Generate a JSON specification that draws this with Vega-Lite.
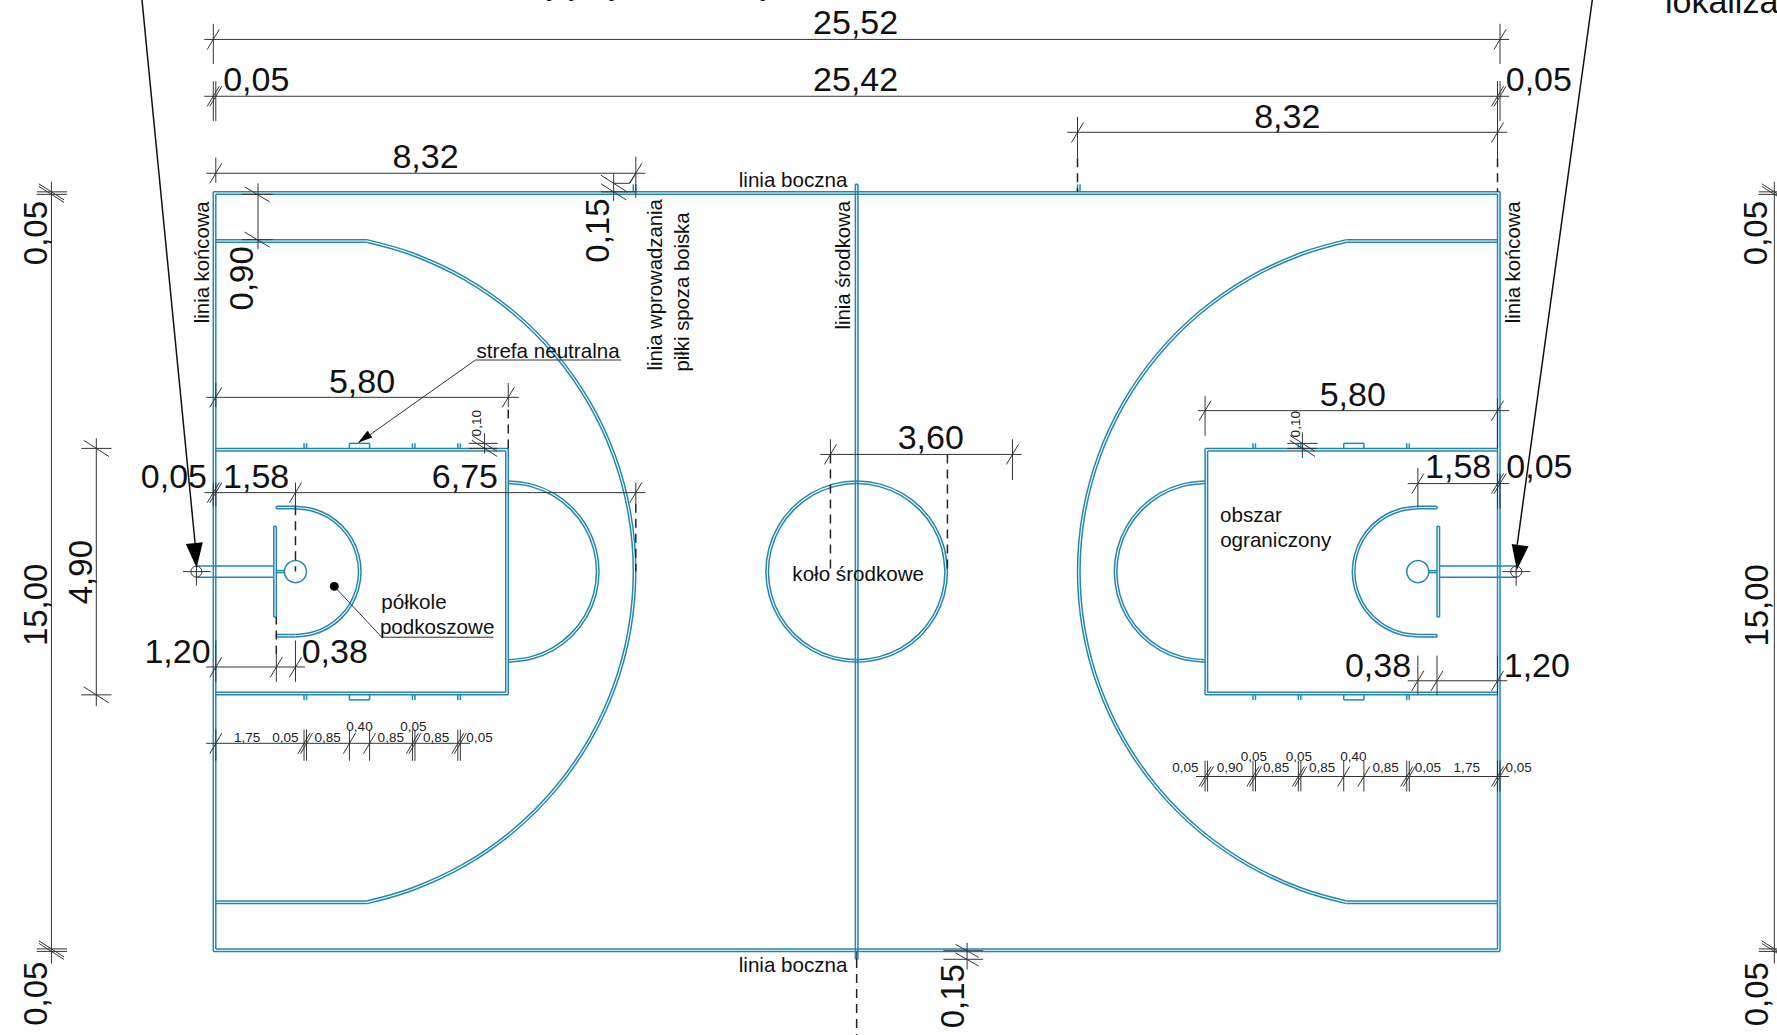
{"$schema":"https://vega.github.io/schema/vega-lite/v6.json","width":1777,"height":1035,"padding":0,"autosize":{"type":"fit","contains":"padding"},"background":"white","config":{"view":{"stroke":null}},
"datasets":{
"court":[
{"x":0,"y":0,"x2":25.52,"y2":0},{"x":0,"y":15.1,"x2":25.52,"y2":15.1},{"x":0,"y":0,"x2":0,"y2":15.1},{"x":25.52,"y":0,"x2":25.52,"y2":15.1},
{"x":0.05,"y":0.05,"x2":25.47,"y2":0.05},{"x":0.05,"y":15.05,"x2":25.47,"y2":15.05},{"x":0.05,"y":0.05,"x2":0.05,"y2":15.05},{"x":25.47,"y":0.05,"x2":25.47,"y2":15.05},
{"x":12.735,"y":-0.15,"x2":12.735,"y2":15.25},{"x":12.785,"y":-0.15,"x2":12.785,"y2":15.25},{"x":12.735,"y":15.25,"x2":12.785,"y2":15.25},{"x":12.735,"y":-0.15,"x2":12.785,"y2":-0.15},
{"x":0.05,"y":14.15,"x2":3.045,"y2":14.15},{"x":0.05,"y":14.1,"x2":3.04,"y2":14.1},{"x":0.05,"y":0.95,"x2":3.045,"y2":0.95},{"x":0.05,"y":1,"x2":3.04,"y2":1},
{"x":25.47,"y":14.15,"x2":22.475,"y2":14.15},{"x":25.47,"y":14.1,"x2":22.48,"y2":14.1},{"x":25.47,"y":0.95,"x2":22.475,"y2":0.95},{"x":25.47,"y":1,"x2":22.48,"y2":1},
{"x":0.05,"y":10,"x2":5.85,"y2":10},{"x":0.05,"y":9.95,"x2":5.8,"y2":9.95},{"x":0.05,"y":5.1,"x2":5.85,"y2":5.1},{"x":0.05,"y":5.15,"x2":5.8,"y2":5.15},{"x":5.85,"y":10,"x2":5.85,"y2":5.1},{"x":5.8,"y":9.95,"x2":5.8,"y2":5.15},
{"x":25.47,"y":10,"x2":19.67,"y2":10},{"x":25.47,"y":9.95,"x2":19.72,"y2":9.95},{"x":25.47,"y":5.1,"x2":19.67,"y2":5.1},{"x":25.47,"y":5.15,"x2":19.72,"y2":5.15},{"x":19.67,"y":10,"x2":19.67,"y2":5.1},{"x":19.72,"y":9.95,"x2":19.72,"y2":5.15},
{"x":1.8,"y":10,"x2":1.8,"y2":10.1},{"x":1.85,"y":10,"x2":1.85,"y2":10.1},{"x":2.7,"y":10,"x2":2.7,"y2":10.1},{"x":3.1,"y":10,"x2":3.1,"y2":10.1},{"x":2.7,"y":10.1,"x2":3.1,"y2":10.1},{"x":3.95,"y":10,"x2":3.95,"y2":10.1},{"x":4,"y":10,"x2":4,"y2":10.1},{"x":4.85,"y":10,"x2":4.85,"y2":10.1},{"x":4.9,"y":10,"x2":4.9,"y2":10.1},
{"x":1.8,"y":5.1,"x2":1.8,"y2":5},{"x":1.85,"y":5.1,"x2":1.85,"y2":5},{"x":2.7,"y":5.1,"x2":2.7,"y2":5},{"x":3.1,"y":5.1,"x2":3.1,"y2":5},{"x":2.7,"y":5,"x2":3.1,"y2":5},{"x":3.95,"y":5.1,"x2":3.95,"y2":5},{"x":4,"y":5.1,"x2":4,"y2":5},{"x":4.85,"y":5.1,"x2":4.85,"y2":5},{"x":4.9,"y":5.1,"x2":4.9,"y2":5},
{"x":23.72,"y":10,"x2":23.72,"y2":10.1},{"x":23.67,"y":10,"x2":23.67,"y2":10.1},{"x":22.82,"y":10,"x2":22.82,"y2":10.1},{"x":22.42,"y":10,"x2":22.42,"y2":10.1},{"x":22.42,"y":10.1,"x2":22.82,"y2":10.1},{"x":21.57,"y":10,"x2":21.57,"y2":10.1},{"x":21.52,"y":10,"x2":21.52,"y2":10.1},{"x":20.67,"y":10,"x2":20.67,"y2":10.1},{"x":20.62,"y":10,"x2":20.62,"y2":10.1},
{"x":23.72,"y":5.1,"x2":23.72,"y2":5},{"x":23.67,"y":5.1,"x2":23.67,"y2":5},{"x":22.82,"y":5.1,"x2":22.82,"y2":5},{"x":22.42,"y":5.1,"x2":22.42,"y2":5},{"x":22.42,"y":5,"x2":22.82,"y2":5},{"x":21.57,"y":5.1,"x2":21.57,"y2":5},{"x":21.52,"y":5.1,"x2":21.52,"y2":5},{"x":20.67,"y":5.1,"x2":20.67,"y2":5},{"x":20.62,"y":5.1,"x2":20.62,"y2":5},
{"x":1.25,"y":8.85,"x2":1.63,"y2":8.85},{"x":1.25,"y":8.8,"x2":1.63,"y2":8.8},{"x":1.25,"y":8.85,"x2":1.25,"y2":8.8},{"x":1.25,"y":6.25,"x2":1.63,"y2":6.25},{"x":1.25,"y":6.3,"x2":1.63,"y2":6.3},{"x":1.25,"y":6.25,"x2":1.25,"y2":6.3},
{"x":24.27,"y":8.85,"x2":23.89,"y2":8.85},{"x":24.27,"y":8.8,"x2":23.89,"y2":8.8},{"x":24.27,"y":8.85,"x2":24.27,"y2":8.8},{"x":24.27,"y":6.25,"x2":23.89,"y2":6.25},{"x":24.27,"y":6.3,"x2":23.89,"y2":6.3},{"x":24.27,"y":6.25,"x2":24.27,"y2":6.3},
{"x":1.2,"y":6.65,"x2":1.2,"y2":8.45},{"x":1.25,"y":6.65,"x2":1.25,"y2":8.45},{"x":1.2,"y":6.65,"x2":1.25,"y2":6.65},{"x":1.2,"y":8.45,"x2":1.25,"y2":8.45},
{"x":24.32,"y":6.65,"x2":24.32,"y2":8.45},{"x":24.27,"y":6.65,"x2":24.27,"y2":8.45},{"x":24.27,"y":6.65,"x2":24.32,"y2":6.65},{"x":24.27,"y":8.45,"x2":24.32,"y2":8.45},
{"x":-0.335,"y":7.66,"x2":1.2,"y2":7.66},{"x":-0.335,"y":7.44,"x2":1.2,"y2":7.44},{"x":25.84,"y":7.66,"x2":24.32,"y2":7.66},{"x":25.84,"y":7.44,"x2":24.32,"y2":7.44},
{"x":1.25,"y":7.57,"x2":1.41,"y2":7.57},{"x":1.25,"y":7.53,"x2":1.41,"y2":7.53},{"x":24.27,"y":7.57,"x2":24.11,"y2":7.57},{"x":24.27,"y":7.53,"x2":24.11,"y2":7.53},
{"x":8.33,"y":15.1,"x2":8.33,"y2":15.25},{"x":8.38,"y":15.1,"x2":8.38,"y2":15.25},{"x":17.14,"y":15.1,"x2":17.14,"y2":15.25},{"x":17.19,"y":15.1,"x2":17.19,"y2":15.25}
],
"arcs":[
{"id":"t1","i":0,"x":3.045,"y":14.15},{"id":"t1","i":1,"x":3.939,"y":13.893},{"id":"t1","i":2,"x":5.005,"y":13.396},{"id":"t1","i":3,"x":5.969,"y":12.721},{"id":"t1","i":4,"x":6.801,"y":11.889},{"id":"t1","i":5,"x":7.476,"y":10.925},{"id":"t1","i":6,"x":7.973,"y":9.859},{"id":"t1","i":7,"x":8.277,"y":8.722},{"id":"t1","i":8,"x":8.38,"y":7.55},{"id":"t1","i":9,"x":8.277,"y":6.378},{"id":"t1","i":10,"x":7.973,"y":5.241},{"id":"t1","i":11,"x":7.476,"y":4.175},{"id":"t1","i":12,"x":6.801,"y":3.211},{"id":"t1","i":13,"x":5.969,"y":2.379},{"id":"t1","i":14,"x":5.005,"y":1.704},{"id":"t1","i":15,"x":3.939,"y":1.207},{"id":"t1","i":16,"x":3.045,"y":0.95},
{"id":"t2","i":0,"x":3.04,"y":14.1},{"id":"t2","i":1,"x":3.921,"y":13.846},{"id":"t2","i":2,"x":4.98,"y":13.352},{"id":"t2","i":3,"x":5.937,"y":12.682},{"id":"t2","i":4,"x":6.762,"y":11.857},{"id":"t2","i":5,"x":7.432,"y":10.9},{"id":"t2","i":6,"x":7.926,"y":9.841},{"id":"t2","i":7,"x":8.228,"y":8.713},{"id":"t2","i":8,"x":8.33,"y":7.55},{"id":"t2","i":9,"x":8.228,"y":6.387},{"id":"t2","i":10,"x":7.926,"y":5.259},{"id":"t2","i":11,"x":7.432,"y":4.2},{"id":"t2","i":12,"x":6.762,"y":3.243},{"id":"t2","i":13,"x":5.937,"y":2.418},{"id":"t2","i":14,"x":4.98,"y":1.748},{"id":"t2","i":15,"x":3.921,"y":1.254},{"id":"t2","i":16,"x":3.04,"y":1},
{"id":"t3","i":0,"x":22.475,"y":14.15},{"id":"t3","i":1,"x":21.581,"y":13.893},{"id":"t3","i":2,"x":20.515,"y":13.396},{"id":"t3","i":3,"x":19.551,"y":12.721},{"id":"t3","i":4,"x":18.719,"y":11.889},{"id":"t3","i":5,"x":18.044,"y":10.925},{"id":"t3","i":6,"x":17.547,"y":9.859},{"id":"t3","i":7,"x":17.243,"y":8.722},{"id":"t3","i":8,"x":17.14,"y":7.55},{"id":"t3","i":9,"x":17.243,"y":6.378},{"id":"t3","i":10,"x":17.547,"y":5.241},{"id":"t3","i":11,"x":18.044,"y":4.175},{"id":"t3","i":12,"x":18.719,"y":3.211},{"id":"t3","i":13,"x":19.551,"y":2.379},{"id":"t3","i":14,"x":20.515,"y":1.704},{"id":"t3","i":15,"x":21.581,"y":1.207},{"id":"t3","i":16,"x":22.475,"y":0.95},
{"id":"t4","i":0,"x":22.48,"y":14.1},{"id":"t4","i":1,"x":21.599,"y":13.846},{"id":"t4","i":2,"x":20.54,"y":13.352},{"id":"t4","i":3,"x":19.583,"y":12.682},{"id":"t4","i":4,"x":18.758,"y":11.857},{"id":"t4","i":5,"x":18.088,"y":10.9},{"id":"t4","i":6,"x":17.594,"y":9.841},{"id":"t4","i":7,"x":17.292,"y":8.713},{"id":"t4","i":8,"x":17.19,"y":7.55},{"id":"t4","i":9,"x":17.292,"y":6.387},{"id":"t4","i":10,"x":17.594,"y":5.259},{"id":"t4","i":11,"x":18.088,"y":4.2},{"id":"t4","i":12,"x":18.758,"y":3.243},{"id":"t4","i":13,"x":19.583,"y":2.418},{"id":"t4","i":14,"x":20.54,"y":1.748},{"id":"t4","i":15,"x":21.599,"y":1.254},{"id":"t4","i":16,"x":22.48,"y":1},
{"id":"f1","i":0,"x":5.85,"y":9.35},{"id":"f1","i":1,"x":6.316,"y":9.289},{"id":"f1","i":2,"x":6.75,"y":9.109},{"id":"f1","i":3,"x":7.123,"y":8.823},{"id":"f1","i":4,"x":7.409,"y":8.45},{"id":"f1","i":5,"x":7.589,"y":8.016},{"id":"f1","i":6,"x":7.65,"y":7.55},{"id":"f1","i":7,"x":7.589,"y":7.084},{"id":"f1","i":8,"x":7.409,"y":6.65},{"id":"f1","i":9,"x":7.123,"y":6.277},{"id":"f1","i":10,"x":6.75,"y":5.991},{"id":"f1","i":11,"x":6.316,"y":5.811},{"id":"f1","i":12,"x":5.85,"y":5.75},
{"id":"f2","i":0,"x":5.85,"y":9.3},{"id":"f2","i":1,"x":6.303,"y":9.24},{"id":"f2","i":2,"x":6.725,"y":9.066},{"id":"f2","i":3,"x":7.087,"y":8.787},{"id":"f2","i":4,"x":7.366,"y":8.425},{"id":"f2","i":5,"x":7.54,"y":8.003},{"id":"f2","i":6,"x":7.6,"y":7.55},{"id":"f2","i":7,"x":7.54,"y":7.097},{"id":"f2","i":8,"x":7.366,"y":6.675},{"id":"f2","i":9,"x":7.087,"y":6.313},{"id":"f2","i":10,"x":6.725,"y":6.034},{"id":"f2","i":11,"x":6.303,"y":5.86},{"id":"f2","i":12,"x":5.85,"y":5.8},
{"id":"f3","i":0,"x":19.67,"y":9.35},{"id":"f3","i":1,"x":19.204,"y":9.289},{"id":"f3","i":2,"x":18.77,"y":9.109},{"id":"f3","i":3,"x":18.397,"y":8.823},{"id":"f3","i":4,"x":18.111,"y":8.45},{"id":"f3","i":5,"x":17.931,"y":8.016},{"id":"f3","i":6,"x":17.87,"y":7.55},{"id":"f3","i":7,"x":17.931,"y":7.084},{"id":"f3","i":8,"x":18.111,"y":6.65},{"id":"f3","i":9,"x":18.397,"y":6.277},{"id":"f3","i":10,"x":18.77,"y":5.991},{"id":"f3","i":11,"x":19.204,"y":5.811},{"id":"f3","i":12,"x":19.67,"y":5.75},
{"id":"f4","i":0,"x":19.67,"y":9.3},{"id":"f4","i":1,"x":19.217,"y":9.24},{"id":"f4","i":2,"x":18.795,"y":9.066},{"id":"f4","i":3,"x":18.433,"y":8.787},{"id":"f4","i":4,"x":18.154,"y":8.425},{"id":"f4","i":5,"x":17.98,"y":8.003},{"id":"f4","i":6,"x":17.92,"y":7.55},{"id":"f4","i":7,"x":17.98,"y":7.097},{"id":"f4","i":8,"x":18.154,"y":6.675},{"id":"f4","i":9,"x":18.433,"y":6.313},{"id":"f4","i":10,"x":18.795,"y":6.034},{"id":"f4","i":11,"x":19.217,"y":5.86},{"id":"f4","i":12,"x":19.67,"y":5.8},
{"id":"c1","i":0,"x":14.56,"y":7.55},{"id":"c1","i":1,"x":14.499,"y":8.016},{"id":"c1","i":2,"x":14.319,"y":8.45},{"id":"c1","i":3,"x":14.033,"y":8.823},{"id":"c1","i":4,"x":13.66,"y":9.109},{"id":"c1","i":5,"x":13.226,"y":9.289},{"id":"c1","i":6,"x":12.76,"y":9.35},{"id":"c1","i":7,"x":12.294,"y":9.289},{"id":"c1","i":8,"x":11.86,"y":9.109},{"id":"c1","i":9,"x":11.487,"y":8.823},{"id":"c1","i":10,"x":11.201,"y":8.45},{"id":"c1","i":11,"x":11.021,"y":8.016},{"id":"c1","i":12,"x":10.96,"y":7.55},{"id":"c1","i":13,"x":11.021,"y":7.084},{"id":"c1","i":14,"x":11.201,"y":6.65},{"id":"c1","i":15,"x":11.487,"y":6.277},{"id":"c1","i":16,"x":11.86,"y":5.991},{"id":"c1","i":17,"x":12.294,"y":5.811},{"id":"c1","i":18,"x":12.76,"y":5.75},{"id":"c1","i":19,"x":13.226,"y":5.811},{"id":"c1","i":20,"x":13.66,"y":5.991},{"id":"c1","i":21,"x":14.033,"y":6.277},{"id":"c1","i":22,"x":14.319,"y":6.65},{"id":"c1","i":23,"x":14.499,"y":7.084},{"id":"c1","i":24,"x":14.56,"y":7.55},{"id":"c1","i":25,"x":14.499,"y":8.016},
{"id":"c2","i":0,"x":14.51,"y":7.55},{"id":"c2","i":1,"x":14.45,"y":8.003},{"id":"c2","i":2,"x":14.276,"y":8.425},{"id":"c2","i":3,"x":13.997,"y":8.787},{"id":"c2","i":4,"x":13.635,"y":9.066},{"id":"c2","i":5,"x":13.213,"y":9.24},{"id":"c2","i":6,"x":12.76,"y":9.3},{"id":"c2","i":7,"x":12.307,"y":9.24},{"id":"c2","i":8,"x":11.885,"y":9.066},{"id":"c2","i":9,"x":11.523,"y":8.787},{"id":"c2","i":10,"x":11.244,"y":8.425},{"id":"c2","i":11,"x":11.07,"y":8.003},{"id":"c2","i":12,"x":11.01,"y":7.55},{"id":"c2","i":13,"x":11.07,"y":7.097},{"id":"c2","i":14,"x":11.244,"y":6.675},{"id":"c2","i":15,"x":11.523,"y":6.313},{"id":"c2","i":16,"x":11.885,"y":6.034},{"id":"c2","i":17,"x":12.307,"y":5.86},{"id":"c2","i":18,"x":12.76,"y":5.8},{"id":"c2","i":19,"x":13.213,"y":5.86},{"id":"c2","i":20,"x":13.635,"y":6.034},{"id":"c2","i":21,"x":13.997,"y":6.313},{"id":"c2","i":22,"x":14.276,"y":6.675},{"id":"c2","i":23,"x":14.45,"y":7.097},{"id":"c2","i":24,"x":14.51,"y":7.55},{"id":"c2","i":25,"x":14.45,"y":8.003},
{"id":"n1","i":0,"x":1.63,"y":8.85},{"id":"n1","i":1,"x":1.966,"y":8.806},{"id":"n1","i":2,"x":2.28,"y":8.676},{"id":"n1","i":3,"x":2.549,"y":8.469},{"id":"n1","i":4,"x":2.756,"y":8.2},{"id":"n1","i":5,"x":2.886,"y":7.886},{"id":"n1","i":6,"x":2.93,"y":7.55},{"id":"n1","i":7,"x":2.886,"y":7.214},{"id":"n1","i":8,"x":2.756,"y":6.9},{"id":"n1","i":9,"x":2.549,"y":6.631},{"id":"n1","i":10,"x":2.28,"y":6.424},{"id":"n1","i":11,"x":1.966,"y":6.294},{"id":"n1","i":12,"x":1.63,"y":6.25},
{"id":"n2","i":0,"x":1.63,"y":8.8},{"id":"n2","i":1,"x":1.954,"y":8.757},{"id":"n2","i":2,"x":2.255,"y":8.633},{"id":"n2","i":3,"x":2.514,"y":8.434},{"id":"n2","i":4,"x":2.713,"y":8.175},{"id":"n2","i":5,"x":2.837,"y":7.874},{"id":"n2","i":6,"x":2.88,"y":7.55},{"id":"n2","i":7,"x":2.837,"y":7.226},{"id":"n2","i":8,"x":2.713,"y":6.925},{"id":"n2","i":9,"x":2.514,"y":6.666},{"id":"n2","i":10,"x":2.255,"y":6.467},{"id":"n2","i":11,"x":1.954,"y":6.343},{"id":"n2","i":12,"x":1.63,"y":6.3},
{"id":"n3","i":0,"x":23.89,"y":8.85},{"id":"n3","i":1,"x":23.554,"y":8.806},{"id":"n3","i":2,"x":23.24,"y":8.676},{"id":"n3","i":3,"x":22.971,"y":8.469},{"id":"n3","i":4,"x":22.764,"y":8.2},{"id":"n3","i":5,"x":22.634,"y":7.886},{"id":"n3","i":6,"x":22.59,"y":7.55},{"id":"n3","i":7,"x":22.634,"y":7.214},{"id":"n3","i":8,"x":22.764,"y":6.9},{"id":"n3","i":9,"x":22.971,"y":6.631},{"id":"n3","i":10,"x":23.24,"y":6.424},{"id":"n3","i":11,"x":23.554,"y":6.294},{"id":"n3","i":12,"x":23.89,"y":6.25},
{"id":"n4","i":0,"x":23.89,"y":8.8},{"id":"n4","i":1,"x":23.566,"y":8.757},{"id":"n4","i":2,"x":23.265,"y":8.633},{"id":"n4","i":3,"x":23.006,"y":8.434},{"id":"n4","i":4,"x":22.807,"y":8.175},{"id":"n4","i":5,"x":22.683,"y":7.874},{"id":"n4","i":6,"x":22.64,"y":7.55},{"id":"n4","i":7,"x":22.683,"y":7.226},{"id":"n4","i":8,"x":22.807,"y":6.925},{"id":"n4","i":9,"x":23.006,"y":6.666},{"id":"n4","i":10,"x":23.265,"y":6.467},{"id":"n4","i":11,"x":23.566,"y":6.343},{"id":"n4","i":12,"x":23.89,"y":6.3},
{"id":"h1","i":0,"x":1.85,"y":7.55},{"id":"h1","i":1,"x":1.82,"y":7.66},{"id":"h1","i":2,"x":1.74,"y":7.74},{"id":"h1","i":3,"x":1.63,"y":7.77},{"id":"h1","i":4,"x":1.52,"y":7.74},{"id":"h1","i":5,"x":1.44,"y":7.66},{"id":"h1","i":6,"x":1.41,"y":7.55},{"id":"h1","i":7,"x":1.44,"y":7.44},{"id":"h1","i":8,"x":1.52,"y":7.36},{"id":"h1","i":9,"x":1.63,"y":7.33},{"id":"h1","i":10,"x":1.74,"y":7.36},{"id":"h1","i":11,"x":1.82,"y":7.44},{"id":"h1","i":12,"x":1.85,"y":7.55},
{"id":"h2","i":0,"x":24.11,"y":7.55},{"id":"h2","i":1,"x":24.08,"y":7.66},{"id":"h2","i":2,"x":24,"y":7.74},{"id":"h2","i":3,"x":23.89,"y":7.77},{"id":"h2","i":4,"x":23.78,"y":7.74},{"id":"h2","i":5,"x":23.7,"y":7.66},{"id":"h2","i":6,"x":23.67,"y":7.55},{"id":"h2","i":7,"x":23.7,"y":7.44},{"id":"h2","i":8,"x":23.78,"y":7.36},{"id":"h2","i":9,"x":23.89,"y":7.33},{"id":"h2","i":10,"x":24,"y":7.36},{"id":"h2","i":11,"x":24.08,"y":7.44},{"id":"h2","i":12,"x":24.11,"y":7.55}
],
"dims":[
{"x":-0.18,"y":18.13,"x2":25.7,"y2":18.13},{"x":0,"y":17.64,"x2":0,"y2":18.44},{"x":-0.12,"y":17.93,"x2":0.12,"y2":18.33},{"x":25.52,"y":17.64,"x2":25.52,"y2":18.44},{"x":25.4,"y":17.93,"x2":25.64,"y2":18.33},
{"x":-0.18,"y":17,"x2":25.7,"y2":17},{"x":0,"y":16.51,"x2":0,"y2":17.3},{"x":0.05,"y":16.51,"x2":0.05,"y2":17.3},{"x":-0.12,"y":16.8,"x2":0.12,"y2":17.2},{"x":-0.07,"y":16.8,"x2":0.17,"y2":17.2},{"x":25.47,"y":15.77,"x2":25.47,"y2":17.3},{"x":25.52,"y":16.51,"x2":25.52,"y2":17.3},{"x":25.35,"y":16.8,"x2":25.59,"y2":17.2},{"x":25.4,"y":16.8,"x2":25.64,"y2":17.2},
{"x":-0.14,"y":15.47,"x2":8.57,"y2":15.47},{"x":0.05,"y":15.28,"x2":0.05,"y2":15.78},{"x":-0.07,"y":15.27,"x2":0.17,"y2":15.67},{"x":8.38,"y":14.98,"x2":8.38,"y2":15.8},{"x":8.26,"y":15.27,"x2":8.5,"y2":15.67},
{"x":7.94,"y":14.92,"x2":7.94,"y2":15.47},{"x":7.7,"y":15.1,"x2":8.38,"y2":15.1},{"x":7.94,"y":15.27,"x2":8.25,"y2":15.27},{"x":8.25,"y":15.27,"x2":8.38,"y2":15.47},{"x":7.69,"y":15.43,"x2":8.19,"y2":15.11},{"x":7.69,"y":15.26,"x2":8.19,"y2":14.94},
{"x":0.887,"y":13.96,"x2":0.887,"y2":15.27},{"x":0.57,"y":15.05,"x2":1.18,"y2":15.05},{"x":0.57,"y":14.15,"x2":1.18,"y2":14.15},{"x":0.62,"y":15.2,"x2":1.12,"y2":14.9},{"x":0.62,"y":14.3,"x2":1.12,"y2":14},
{"x":-0.14,"y":11.015,"x2":6.06,"y2":11.015},{"x":0.05,"y":10.82,"x2":0.05,"y2":11.3},{"x":5.85,"y":10.82,"x2":5.85,"y2":11.3},{"x":-0.07,"y":10.815,"x2":0.17,"y2":11.215},{"x":5.73,"y":10.815,"x2":5.97,"y2":11.215},
{"x":-0.175,"y":9.12,"x2":8.57,"y2":9.12},{"x":0,"y":8.85,"x2":0,"y2":9.32},{"x":0.05,"y":8.85,"x2":0.05,"y2":9.32},{"x":-0.12,"y":8.92,"x2":0.12,"y2":9.32},{"x":-0.07,"y":8.92,"x2":0.17,"y2":9.32},{"x":1.63,"y":8.85,"x2":1.63,"y2":9.32},{"x":1.51,"y":8.92,"x2":1.75,"y2":9.32},{"x":8.38,"y":8.9,"x2":8.38,"y2":9.32},{"x":8.26,"y":8.92,"x2":8.5,"y2":9.32},
{"x":-0.14,"y":5.654,"x2":1.82,"y2":5.654},{"x":0.05,"y":5.36,"x2":0.05,"y2":6.18},{"x":-0.07,"y":5.45,"x2":0.17,"y2":5.85},{"x":1.25,"y":5.36,"x2":1.25,"y2":5.9},{"x":1.13,"y":5.45,"x2":1.37,"y2":5.85},{"x":1.63,"y":5.36,"x2":1.63,"y2":6.18},{"x":1.51,"y":5.45,"x2":1.75,"y2":5.85},
{"x":-0.14,"y":4.137,"x2":5.09,"y2":4.137},{"x":0.05,"y":3.79,"x2":0.05,"y2":4.41},{"x":1.8,"y":3.79,"x2":1.8,"y2":4.41},{"x":1.85,"y":3.79,"x2":1.85,"y2":4.41},{"x":2.7,"y":3.79,"x2":2.7,"y2":4.41},{"x":3.1,"y":3.79,"x2":3.1,"y2":4.41},{"x":3.95,"y":3.79,"x2":3.95,"y2":4.41},{"x":4,"y":3.79,"x2":4,"y2":4.41},{"x":4.85,"y":3.79,"x2":4.85,"y2":4.41},{"x":4.9,"y":3.79,"x2":4.9,"y2":4.41},
{"x":-0.07,"y":3.93,"x2":0.17,"y2":4.34},{"x":1.68,"y":3.93,"x2":1.92,"y2":4.34},{"x":1.73,"y":3.93,"x2":1.97,"y2":4.34},{"x":2.58,"y":3.93,"x2":2.82,"y2":4.34},{"x":2.98,"y":3.93,"x2":3.22,"y2":4.34},{"x":3.83,"y":3.93,"x2":4.07,"y2":4.34},{"x":3.88,"y":3.93,"x2":4.12,"y2":4.34},{"x":4.73,"y":3.93,"x2":4.97,"y2":4.34},{"x":4.78,"y":3.93,"x2":5.02,"y2":4.34},
{"x":-2.32,"y":4.88,"x2":-2.32,"y2":10.2},{"x":-2.62,"y":10,"x2":-2.02,"y2":10},{"x":-2.62,"y":5.1,"x2":-2.02,"y2":5.1},{"x":-2.57,"y":10.16,"x2":-2.07,"y2":9.84},{"x":-2.57,"y":5.26,"x2":-2.07,"y2":4.94},
{"x":-3.21,"y":-0.24,"x2":-3.21,"y2":15.3},{"x":-3.5,"y":15.1,"x2":-2.9,"y2":15.1},{"x":-3.5,"y":15.05,"x2":-2.9,"y2":15.05},{"x":-3.5,"y":0.05,"x2":-2.9,"y2":0.05},{"x":-3.5,"y":0,"x2":-2.9,"y2":0},{"x":-3.46,"y":15.26,"x2":-2.96,"y2":14.94},{"x":-3.46,"y":15.21,"x2":-2.96,"y2":14.89},{"x":-3.46,"y":0.21,"x2":-2.96,"y2":-0.11},{"x":-3.46,"y":0.16,"x2":-2.96,"y2":-0.16},
{"x":30.96,"y":-0.24,"x2":30.96,"y2":15.3},{"x":30.65,"y":15.1,"x2":31.05,"y2":15.1},{"x":30.65,"y":15.05,"x2":31.05,"y2":15.05},{"x":30.65,"y":0.05,"x2":31.05,"y2":0.05},{"x":30.65,"y":0,"x2":31.05,"y2":0},{"x":30.71,"y":15.26,"x2":31.21,"y2":14.94},{"x":30.71,"y":15.21,"x2":31.21,"y2":14.89},{"x":30.71,"y":0.21,"x2":31.21,"y2":-0.11},{"x":30.71,"y":0.16,"x2":31.21,"y2":-0.16},
{"x":16.94,"y":16.284,"x2":25.66,"y2":16.284},{"x":17.14,"y":15.77,"x2":17.14,"y2":16.59},{"x":17.02,"y":16.08,"x2":17.26,"y2":16.48},{"x":25.35,"y":16.08,"x2":25.59,"y2":16.48},
{"x":19.53,"y":10.75,"x2":25.7,"y2":10.75},{"x":19.67,"y":10.25,"x2":19.67,"y2":11.04},{"x":19.55,"y":10.55,"x2":19.79,"y2":10.95},{"x":25.47,"y":10,"x2":25.47,"y2":11},{"x":25.35,"y":10.55,"x2":25.59,"y2":10.95},
{"x":12.04,"y":9.88,"x2":16.03,"y2":9.88},{"x":12.24,"y":9.88,"x2":12.24,"y2":10.18},{"x":12.12,"y":9.68,"x2":12.36,"y2":10.08},{"x":15.85,"y":9.37,"x2":15.85,"y2":10.18},{"x":15.73,"y":9.68,"x2":15.97,"y2":10.08},
{"x":23.69,"y":9.3,"x2":25.7,"y2":9.3},{"x":23.89,"y":8.82,"x2":23.89,"y2":9.61},{"x":23.77,"y":9.1,"x2":24.01,"y2":9.5},{"x":25.47,"y":8.8,"x2":25.47,"y2":9.5},{"x":25.52,"y":8.8,"x2":25.52,"y2":9.5},{"x":25.35,"y":9.1,"x2":25.59,"y2":9.5},{"x":25.4,"y":9.1,"x2":25.64,"y2":9.5},
{"x":23.69,"y":5.38,"x2":25.66,"y2":5.38},{"x":23.89,"y":5.1,"x2":23.89,"y2":5.88},{"x":24.27,"y":5.1,"x2":24.27,"y2":5.88},{"x":25.47,"y":5.1,"x2":25.47,"y2":5.88},{"x":23.77,"y":5.18,"x2":24.01,"y2":5.58},{"x":24.15,"y":5.18,"x2":24.39,"y2":5.58},{"x":25.35,"y":5.18,"x2":25.59,"y2":5.58},
{"x":19.49,"y":3.477,"x2":25.7,"y2":3.477},{"x":19.67,"y":3.18,"x2":19.67,"y2":3.79},{"x":19.72,"y":3.18,"x2":19.72,"y2":3.79},{"x":20.62,"y":3.18,"x2":20.62,"y2":3.79},{"x":20.67,"y":3.18,"x2":20.67,"y2":3.79},{"x":21.52,"y":3.18,"x2":21.52,"y2":3.79},{"x":21.57,"y":3.18,"x2":21.57,"y2":3.79},{"x":22.42,"y":3.18,"x2":22.42,"y2":3.79},{"x":22.82,"y":3.18,"x2":22.82,"y2":3.79},{"x":23.67,"y":3.18,"x2":23.67,"y2":3.79},{"x":23.72,"y":3.18,"x2":23.72,"y2":3.79},{"x":25.47,"y":3.18,"x2":25.47,"y2":3.79},{"x":25.52,"y":3.18,"x2":25.52,"y2":3.79},
{"x":19.55,"y":3.277,"x2":19.79,"y2":3.677},{"x":19.6,"y":3.277,"x2":19.84,"y2":3.677},{"x":20.5,"y":3.277,"x2":20.74,"y2":3.677},{"x":20.55,"y":3.277,"x2":20.79,"y2":3.677},{"x":21.4,"y":3.277,"x2":21.64,"y2":3.677},{"x":21.45,"y":3.277,"x2":21.69,"y2":3.677},{"x":22.3,"y":3.277,"x2":22.54,"y2":3.677},{"x":22.7,"y":3.277,"x2":22.94,"y2":3.677},{"x":23.55,"y":3.277,"x2":23.79,"y2":3.677},{"x":23.6,"y":3.277,"x2":23.84,"y2":3.677},{"x":25.35,"y":3.277,"x2":25.59,"y2":3.677},{"x":25.4,"y":3.277,"x2":25.64,"y2":3.677},
{"x":5.38,"y":9.9,"x2":5.38,"y2":10.3},{"x":5.07,"y":10.1,"x2":5.64,"y2":10.1},{"x":5.07,"y":10,"x2":5.64,"y2":10},{"x":5.13,"y":10.26,"x2":5.63,"y2":9.94},{"x":5.13,"y":10.16,"x2":5.63,"y2":9.84},
{"x":21.6,"y":9.81,"x2":21.6,"y2":10.32},{"x":21.3,"y":10.1,"x2":21.9,"y2":10.1},{"x":21.3,"y":10,"x2":21.9,"y2":10},{"x":21.35,"y":10.26,"x2":21.85,"y2":9.94},{"x":21.35,"y":10.16,"x2":21.85,"y2":9.84},
{"x":14.95,"y":-0.36,"x2":14.95,"y2":0.17},{"x":14.48,"y":0.013,"x2":15.27,"y2":0.013},{"x":14.48,"y":-0.157,"x2":15.27,"y2":-0.157},{"x":14.72,"y":0.14,"x2":15.18,"y2":-0.12},{"x":14.72,"y":-0.03,"x2":15.18,"y2":-0.29},
{"x":12.76,"y":0,"x2":12.76,"y2":-0.15},
{"x":5.2,"y":11.757,"x2":8.09,"y2":11.757},{"x":5.2,"y":11.757,"x2":2.88,"y2":10.11},{"x":2.4,"y":7.257,"x2":3.34,"y2":6.246},{"x":3.34,"y":6.246,"x2":5.553,"y2":6.246},
{"x":-0.6,"y":7.55,"x2":-0.05,"y2":7.55},{"x":-0.335,"y":7.27,"x2":-0.335,"y2":7.66},{"x":25.57,"y":7.55,"x2":26.12,"y2":7.55},{"x":25.84,"y":7.27,"x2":25.84,"y2":7.66}
],
"dashes":[
{"x":5.85,"y":10,"x2":5.85,"y2":10.82},{"x":1.63,"y":8.85,"x2":1.63,"y2":7.55},{"x":8.38,"y":8.9,"x2":8.38,"y2":7.55},{"x":1.25,"y":5.9,"x2":1.25,"y2":6.65},{"x":17.14,"y":15.77,"x2":17.14,"y2":15.1},{"x":25.47,"y":15.77,"x2":25.47,"y2":15.1},{"x":12.24,"y":9.88,"x2":12.24,"y2":7.55},{"x":14.56,"y":9.88,"x2":14.56,"y2":7.55},{"x":12.76,"y":-0.15,"x2":12.76,"y2":-1.66}
],
"arrows":[{"x":-1.414,"y":18.914,"x2":-0.34,"y2":7.9},{"x":27.35,"y":18.914,"x2":25.86,"y2":8.08}],
"headL":[{"x":-0.353,"y":7.87}],
"headR":[{"x":25.886,"y":7.83}],
"headS":[{"x":2.99,"y":10.2}],
"dot":[{"x":2.4,"y":7.257}],
"rings":[{"x":-0.335,"y":7.55},{"x":25.84,"y":7.55}],
"big":[
{"x":12.74,"y":18.47,"t":"25,52"},{"x":12.74,"y":17.35,"t":"25,42"},{"x":0.853,"y":17.34,"t":"0,05"},{"x":26.29,"y":17.34,"t":"0,05"},{"x":4.21,"y":15.81,"t":"8,32"},{"x":21.3,"y":16.61,"t":"8,32"},{"x":2.95,"y":11.34,"t":"5,80"},{"x":22.6,"y":11.08,"t":"5,80"},{"x":-0.78,"y":9.455,"t":"0,05"},{"x":0.85,"y":9.455,"t":"1,58"},{"x":4.99,"y":9.455,"t":"6,75"},{"x":14.23,"y":10.22,"t":"3,60"},{"x":24.69,"y":9.64,"t":"1,58"},{"x":26.3,"y":9.64,"t":"0,05"},{"x":-0.71,"y":5.98,"t":"1,20"},{"x":2.41,"y":5.98,"t":"0,38"},{"x":23.1,"y":5.7,"t":"0,38"},{"x":26.25,"y":5.7,"t":"1,20"}],
"bigRot":[
{"x":-3.545,"y":14.28,"t":"0,05"},{"x":0.55,"y":13.38,"t":"0,90"},{"x":7.61,"y":14.33,"t":"0,15"},{"x":-3.545,"y":6.89,"t":"15,00"},{"x":-2.64,"y":7.54,"t":"4,90"},{"x":-3.545,"y":-0.84,"t":"0,05"},{"x":14.65,"y":-0.89,"t":"0,15"},{"x":30.58,"y":14.28,"t":"0,05"},{"x":30.6,"y":6.88,"t":"15,00"},{"x":30.6,"y":-0.85,"t":"0,05"}],
"mid":[
{"x":11.5,"y":15.35,"t":"linia boczna"},{"x":11.5,"y":-0.26,"t":"linia boczna"},{"x":6.64,"y":11.96,"t":"strefa neutralna"},{"x":3.98,"y":6.96,"t":"półkole"},{"x":4.44,"y":6.46,"t":"podkoszowe"},{"x":12.79,"y":7.53,"t":"koło środkowe"},{"x":20.58,"y":8.69,"t":"obszar"},{"x":21.07,"y":8.2,"t":"ograniczony"}],
"midRot":[
{"x":-0.224,"y":13.7,"t":"linia końcowa"},{"x":25.77,"y":13.7,"t":"linia końcowa"},{"x":12.49,"y":13.64,"t":"linia środkowa"},{"x":8.77,"y":13.25,"t":"linia wprowadzania"},{"x":9.3,"y":13.11,"t":"piłki spoza boiska"}],
"small":[
{"x":0.67,"y":4.25,"t":"1,75"},{"x":1.43,"y":4.25,"t":"0,05"},{"x":2.27,"y":4.25,"t":"0,85"},{"x":2.9,"y":4.47,"t":"0,40"},{"x":3.52,"y":4.25,"t":"0,85"},{"x":3.97,"y":4.47,"t":"0,05"},{"x":4.42,"y":4.25,"t":"0,85"},{"x":5.28,"y":4.25,"t":"0,05"},
{"x":19.28,"y":3.64,"t":"0,05"},{"x":20.16,"y":3.64,"t":"0,90"},{"x":20.64,"y":3.87,"t":"0,05"},{"x":21.08,"y":3.64,"t":"0,85"},{"x":21.53,"y":3.87,"t":"0,05"},{"x":21.99,"y":3.64,"t":"0,85"},{"x":22.61,"y":3.87,"t":"0,40"},{"x":23.25,"y":3.64,"t":"0,85"},{"x":24.09,"y":3.64,"t":"0,05"},{"x":24.86,"y":3.64,"t":"1,75"},{"x":25.89,"y":3.64,"t":"0,05"}],
"smallRot":[{"x":5.226,"y":10.5,"t":"0,10"},{"x":21.48,"y":10.48,"t":"0,10"}],
"clipped":[{"x":28.79,"y":18.656,"t":"lokaliza"}],
"cutoff":[{"x":6.76,"y":19.03,"t":"y"},{"x":7.15,"y":19.03,"t":"j"},{"x":8.0,"y":19.03,"t":"y"},{"x":11.0,"y":19.03,"t":"y"}]
},
"encoding":{
"x":{"field":"x","type":"quantitative","scale":{"domain":[-4.23,31.013],"nice":false,"zero":false},"axis":null},
"y":{"field":"y","type":"quantitative","scale":{"domain":[-1.662,18.914],"nice":false,"zero":false},"axis":null}},
"layer":[
{"data":{"name":"court"},"mark":{"type":"rule","stroke":"#2288b0","strokeWidth":1.5,"clip":true},"encoding":{"x2":{"field":"x2"},"y2":{"field":"y2"}}},
{"data":{"name":"arcs"},"mark":{"type":"line","stroke":"#2288b0","strokeWidth":1.5,"interpolate":"catmull-rom","clip":true},"encoding":{"detail":{"field":"id"},"order":{"field":"i","type":"ordinal"}}},
{"data":{"name":"dims"},"mark":{"type":"rule","stroke":"#333333","strokeWidth":1,"clip":true},"encoding":{"x2":{"field":"x2"},"y2":{"field":"y2"}}},
{"data":{"name":"dashes"},"mark":{"type":"rule","stroke":"#222222","strokeWidth":1.5,"strokeDash":[9,6],"clip":true},"encoding":{"x2":{"field":"x2"},"y2":{"field":"y2"}}},
{"data":{"name":"arrows"},"mark":{"type":"rule","stroke":"#111111","strokeWidth":1.5,"clip":true},"encoding":{"x2":{"field":"x2"},"y2":{"field":"y2"}}},
{"data":{"name":"headL"},"mark":{"type":"point","shape":"M-0.85,-1.25L0.85,-1.25L0,1.25Z","size":400,"filled":true,"fill":"#000000","stroke":null,"opacity":1,"angle":-5.4}},
{"data":{"name":"headR"},"mark":{"type":"point","shape":"M-0.85,-1.25L0.85,-1.25L0,1.25Z","size":400,"filled":true,"fill":"#000000","stroke":null,"opacity":1,"angle":7.5}},
{"data":{"name":"headS"},"mark":{"type":"point","shape":"M-0.75,-1.3L0.75,-1.3L0,1.3Z","size":120,"filled":true,"fill":"#000000","stroke":null,"opacity":1,"angle":54.6}},
{"data":{"name":"dot"},"mark":{"type":"point","shape":"circle","size":80,"filled":true,"fill":"#000000","stroke":null,"opacity":1}},
{"data":{"name":"rings"},"mark":{"type":"point","shape":"circle","size":121,"filled":false,"stroke":"#333333","strokeWidth":1,"opacity":1}},
{"data":{"name":"big"},"mark":{"type":"text","font":"Liberation Sans","fontSize":34,"fill":"#111111","align":"center","baseline":"middle","dy":2},"encoding":{"text":{"field":"t"}}},
{"data":{"name":"bigRot"},"mark":{"type":"text","font":"Liberation Sans","fontSize":33,"fill":"#111111","align":"center","baseline":"middle","angle":270,"dy":2},"encoding":{"text":{"field":"t"}}},
{"data":{"name":"mid"},"mark":{"type":"text","font":"Liberation Sans","fontSize":20.6,"fill":"#111111","align":"center","baseline":"middle","dy":2},"encoding":{"text":{"field":"t"}}},
{"data":{"name":"midRot"},"mark":{"type":"text","font":"Liberation Sans","fontSize":20.3,"fill":"#111111","align":"center","baseline":"middle","angle":270,"dy":1},"encoding":{"text":{"field":"t"}}},
{"data":{"name":"small"},"mark":{"type":"text","font":"Liberation Sans","fontSize":13.5,"fill":"#222222","align":"center","baseline":"middle"},"encoding":{"text":{"field":"t"}}},
{"data":{"name":"smallRot"},"mark":{"type":"text","font":"Liberation Sans","fontSize":13.5,"fill":"#222222","align":"center","baseline":"middle","angle":270},"encoding":{"text":{"field":"t"}}},
{"data":{"name":"clipped"},"mark":{"type":"text","font":"Liberation Sans","fontSize":34,"fill":"#111111","align":"left","baseline":"alphabetic","clip":true},"encoding":{"text":{"field":"t"}}},
{"data":{"name":"cutoff"},"mark":{"type":"text","font":"Liberation Sans","fontSize":34,"fill":"#111111","align":"center","baseline":"alphabetic","clip":true},"encoding":{"text":{"field":"t"}}}
]}
